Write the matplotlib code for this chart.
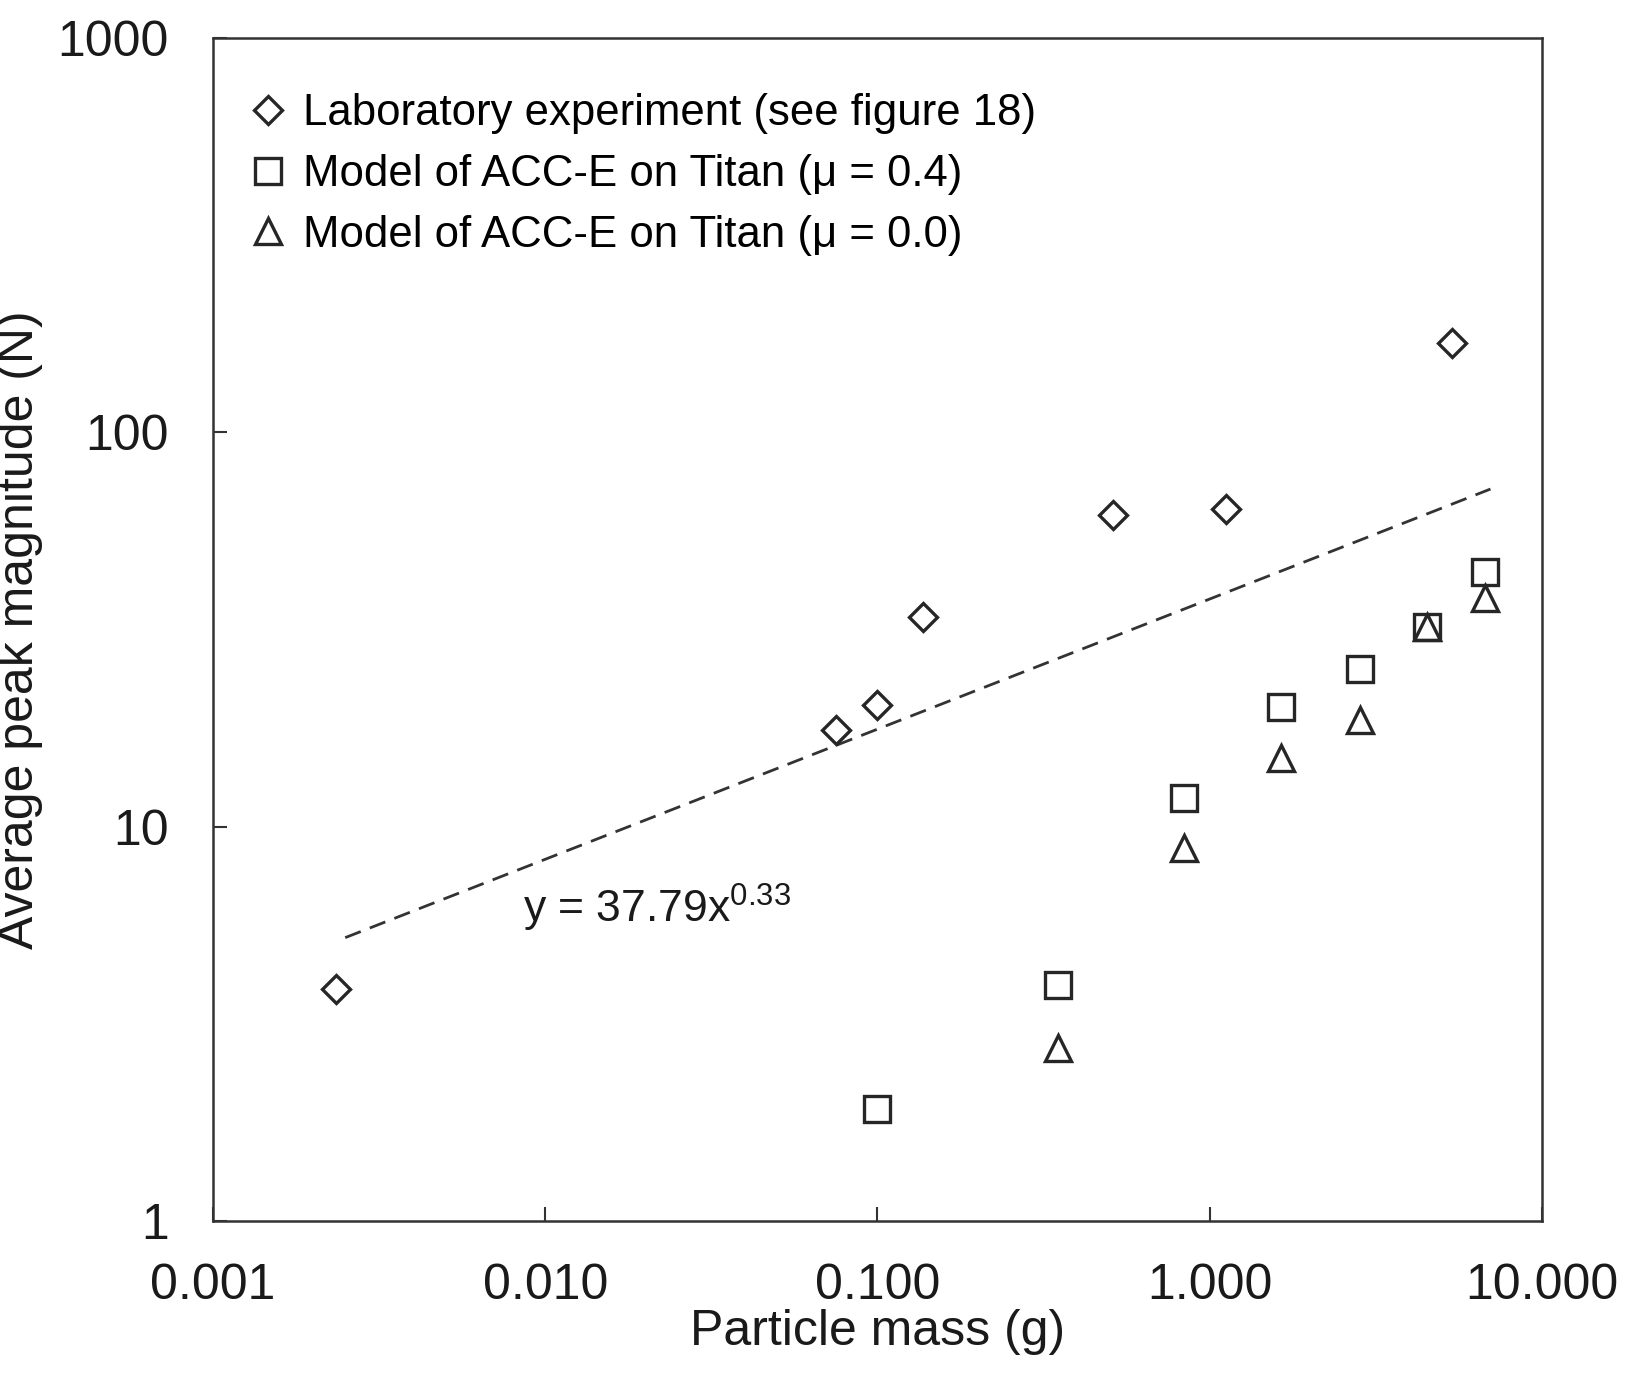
import numpy as np
import matplotlib
matplotlib.use('Agg')
import matplotlib.pyplot as plt

plt.rcParams['font.family'] = ['Liberation Sans', 'DejaVu Sans']
plt.rcParams['mathtext.fontset'] = 'custom'
plt.rcParams['mathtext.rm'] = 'Liberation Sans'
plt.rcParams['mathtext.it'] = 'Liberation Sans'

# Laboratory experiment (see figure 18)
lab_mass = [0.00234, 0.0748, 0.1, 0.137, 0.511, 1.117, 5.37]
lab_force = [3.88, 17.6, 20.4, 34.0, 61.7, 63.9, 169]

# Model of ACC-E on Titan, mu = 0.4
mu04_mass = [0.1, 0.350, 0.836, 1.634, 2.84, 4.52, 6.74]
mu04_force = [1.92, 3.97, 11.8, 20.1, 25.1, 32.1, 44.3]

# Model of ACC-E on Titan, mu = 0.0
mu00_mass = [0.350, 0.836, 1.634, 2.84, 4.52, 6.74]
mu00_force = [2.75, 8.83, 14.9, 18.6, 32.1, 38.0]

# power-law fit shown on the chart
fit_a = 37.79
fit_b = 0.33
fit_range = [0.0025, 7.0]

xticks = [0.001, 0.01, 0.1, 1, 10]
xtick_labels = ['0.001', '0.010', '0.100', '1.000', '10.000']
yticks = [1, 10, 100, 1000]
ytick_labels = ['1', '10', '100', '1000']

ink = '#262626'

fig = plt.figure(figsize=(16.36, 13.83), dpi=100)
ax = fig.add_axes([0.1302, 0.1171, 0.8123, 0.8554])

fit_x = np.array(fit_range)
ax.plot(fit_x, fit_a * fit_x ** fit_b, color='#333333', lw=2.0,
        dashes=(6, 3.5), zorder=1)

ax.plot(lab_mass, lab_force, linestyle='none', marker='D', ms=14.5,
        mfc='none', mec=ink, mew=2.4, label='Laboratory experiment (see figure 18)')
ax.plot(mu04_mass, mu04_force, linestyle='none', marker='s', ms=19,
        mfc='none', mec=ink, mew=2.4, label='Model of ACC-E on Titan (\u03bc = 0.4)')
ax.plot(mu00_mass, mu00_force, linestyle='none', marker='^', ms=19,
        mfc='none', mec=ink, mew=2.4, label='Model of ACC-E on Titan (\u03bc = 0.0)')

ax.text(0.0086, 5.7, r'y = 37.79x$^{0.33}$', fontsize=32, color='#1a1a1a',
        va='baseline', ha='left')

ax.set_xscale('log')
ax.set_yscale('log')
ax.set_xlim(0.001, 10)
ax.set_ylim(1, 1000)
ax.set_xticks(xticks)
ax.set_xticklabels(xtick_labels)
ax.set_yticks(yticks)
ax.set_yticklabels(ytick_labels)
ax.minorticks_off()

ax.tick_params(axis='both', direction='in', length=10, width=1.5,
               colors='#333333', labelcolor='#1a1a1a', labelsize=36)
ax.tick_params(axis='x', pad=30)
ax.tick_params(axis='y', pad=32)

for sp in ax.spines.values():
    sp.set_color('#333333')
    sp.set_linewidth(1.8)

ax.set_xlabel('Particle mass (g)', fontsize=36, color='#1a1a1a', labelpad=0)
ax.set_ylabel('Average peak magnitude (N)', fontsize=36, color='#1a1a1a', labelpad=10)

ax.legend(loc='upper left', bbox_to_anchor=(0.012, 0.968), frameon=False,
          fontsize=31.5, handlelength=1.0, handletextpad=0.3, labelspacing=0.45,
          borderaxespad=0, markerscale=1.0)

fig.savefig('out.png', dpi=100, facecolor='white')
